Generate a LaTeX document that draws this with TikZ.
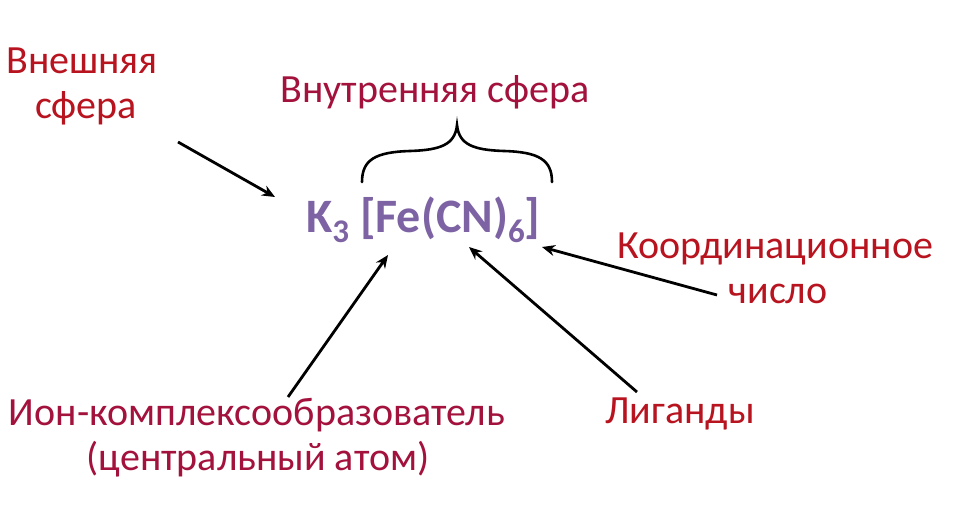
\documentclass[tikz,border=0pt]{standalone}
\usepackage{fontspec}
\setmainfont{Carlito}
\usetikzlibrary{arrows.meta}
\definecolor{labred}{HTML}{B8141F}
\definecolor{labcrim}{HTML}{A3123C}
\definecolor{formpurple}{HTML}{7D63A3}
\tikzset{
  lbl/.style={anchor=base, inner sep=0pt, font=\fontsize{40}{45}\selectfont},
  arr/.style={line width=2.8pt, -{Stealth[length=13pt,width=11pt]}},
  bracepath/.style={line width=2.6pt, line cap=round}
}
\begin{document}
\begin{tikzpicture}[x=1pt,y=-1pt]
\useasboundingbox (0,0) rectangle (958,531);
% labels
\node[lbl, text=labred] (ext1) at (82,73) {Внешняя};
\node[lbl, text=labred] (ext2) at (86,118) {сфера};
\node[lbl, text=labcrim] (inner) at (435,102) {Внутренняя сфера};
\node[lbl, text=labred] (coord1) at (775,258) {Координационное};
\node[lbl, text=labred] (coord2) at (778,303) {число};
\node[lbl, text=labcrim] (ion1) at (257,425) {Ион-комплексообразователь};
\node[lbl, text=labcrim] (ion2) at (258,470) {(центральный атом)};
\node[lbl, text=labred] (lig) at (680,423) {Лиганды};
% formula
\node[anchor=base west, inner sep=0pt, text=formpurple, font=\fontsize{48}{48}\selectfont\bfseries] (formula) at (306,232)
  {K{\fontsize{33}{33}\selectfont\raisebox{-10pt}{3}} [Fe(CN){\fontsize{33}{33}\selectfont\raisebox{-10pt}{6}}]};
% brace
\draw[bracepath] (362,182) .. controls (362,160) and (375,152) .. (410,151)
  .. controls (440,150) and (455,145) .. (457,125)
  .. controls (459,145) and (474,150) .. (504,151)
  .. controls (539,152) and (552,160) .. (552,182);
% arrow coordinates
\coordinate (a1s) at (178,142);
\coordinate (a1e) at (275,197);
\coordinate (a2s) at (288,397);
\coordinate (a2e) at (388,255);
\coordinate (a3s) at (637,392);
\coordinate (a3e) at (469,247);
\coordinate (a4s) at (717,295);
\coordinate (a4e) at (542,247);
\draw[arr] (a1s) -- (a1e);
\draw[arr] (a2s) -- (a2e);
\draw[arr] (a3s) -- (a3e);
\draw[arr] (a4s) -- (a4e);
\end{tikzpicture}
\end{document}
